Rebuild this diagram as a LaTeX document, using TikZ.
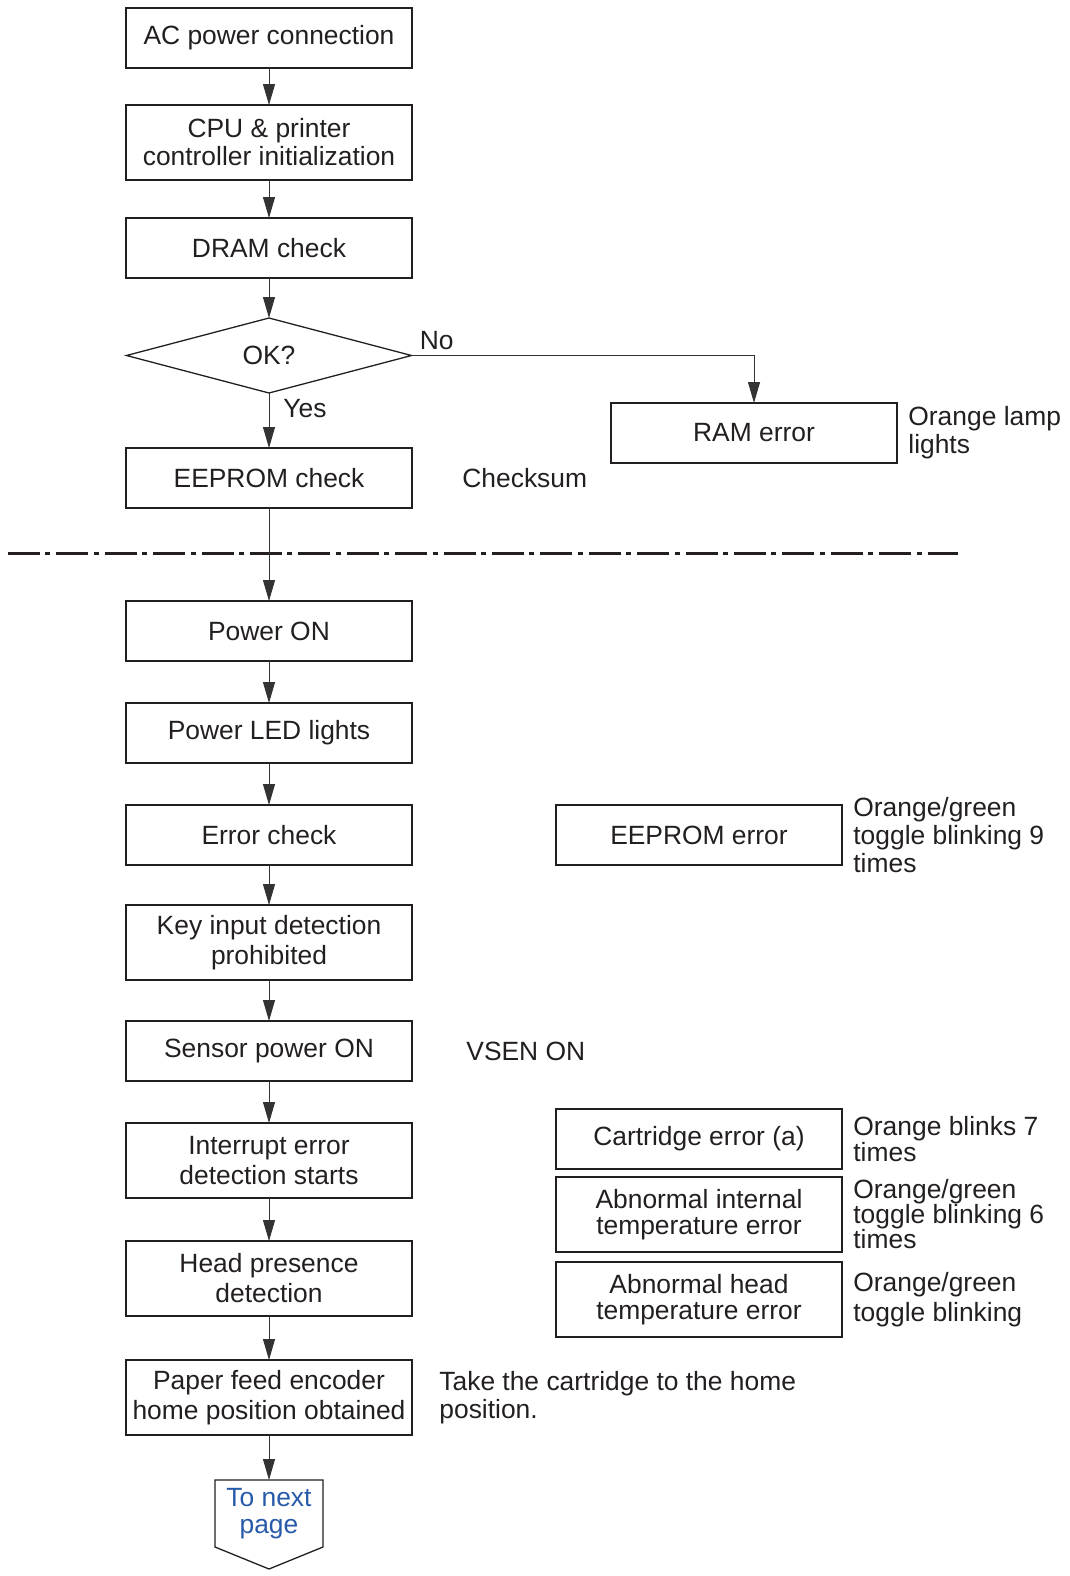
\documentclass[tikz,border=0pt]{standalone}
\usepackage{fontspec}
\setmainfont{Liberation Sans}
\usetikzlibrary{positioning, arrows.meta, shapes.geometric}
\definecolor{inkgray}{RGB}{35,31,32}
\definecolor{linkblue}{RGB}{40,90,170}

\begin{document}
\begin{tikzpicture}[
  x=0.5pt, y=-0.5pt,
  font=\fontsize{13.2}{15}\selectfont,
  text=inkgray,
  box/.style={draw=inkgray, line width=0.65pt, minimum width=143pt, minimum height=30pt, align=center, inner sep=2pt, outer sep=0pt},
  tallbox/.style={box, minimum height=37.5pt},
  errbox/.style={box, font=\fontsize{13.2}{13}\selectfont},
  decision/.style={diamond, draw=inkgray, line width=0.65pt, minimum width=142.5pt, minimum height=37.5pt, inner sep=0pt, outer sep=0pt},
  note/.style={align=left, inner sep=0pt, font=\fontsize{13.2}{14}\selectfont},
  tightnote/.style={note, font=\fontsize{13.2}{12.75}\selectfont},
  flow/.style={draw=black!80, line width=0.5pt, -{Triangle[length=10.5pt, width=6pt]}},
  sepline/.style={draw=inkgray, line width=1.5pt, dash pattern=on 16pt off 2.7pt on 2.5pt off 3pt}
]
\useasboundingbox (0,0) rectangle (1070,1576);

% start-up column
\node[box] (acpower) at (269,38) {AC power connection};
\node[tallbox, font=\fontsize{13.2}{14}\selectfont, below=18.5pt of acpower] (cpu) {CPU \& printer\\controller initialization};
\node[box, below=19pt of cpu] (dram) {DRAM check};
\node[decision, below=20pt of dram] (ok) {OK?};
\node[box, below=27.5pt of ok] (eepromchk) {EEPROM check};

% RAM error branch
\node[box, right=99.5pt of eepromchk, yshift=22.5pt] (ramerr) {RAM error};
\node[note, right=5.5pt of ramerr] (ramnote) {Orange lamp\\lights};
\node[note, right=25pt of eepromchk] (checksum) {Checksum};
\node[note, anchor=south west] (nolbl) at ([xshift=4pt, yshift=2.5pt]ok.east) {No};
\node[note, anchor=west] (yeslbl) at ([xshift=7pt, yshift=-8pt]ok.south) {Yes};

% separator
\draw[sepline] (8,553) -- (958,553);

% power on column
\node[box, below=46.5pt of eepromchk] (poweron) {Power ON};
\node[box, below=21pt of poweron] (powerled) {Power LED lights};
\node[box, below=21pt of powerled] (errchk) {Error check};
\node[tallbox, below=20pt of errchk] (keyin) {Key input detection\\prohibited};
\node[box, below=20.5pt of keyin] (sensor) {Sensor power ON};
\node[tallbox, below=21pt of sensor] (intr) {Interrupt error\\detection starts};
\node[tallbox, below=21.5pt of intr] (head) {Head presence\\detection};
\node[tallbox, below=22pt of head] (paper) {Paper feed encoder\\home position obtained};
\node[minimum width=54pt, minimum height=33.5pt, inner sep=0pt, outer sep=0pt, align=center,
      text=linkblue, font=\fontsize{13.2}{13.5}\selectfont, below=22.5pt of paper] (nextpg) {To next\\page};
\draw[inkgray, line width=0.65pt] (nextpg.north west) -- (nextpg.north east) -- (nextpg.south east)
  -- ([yshift=-11pt]nextpg.south) -- (nextpg.south west) -- cycle;

% error boxes
\node[errbox, right=72pt of errchk] (eepromerr) {EEPROM error};
\node[note, right=5.5pt of eepromerr] (eepnote) {Orange/green\\toggle blinking 9\\times};
\node[note, right=27pt of sensor] (vsen) {VSEN ON};
\node[errbox, right=72pt of intr, yshift=10.75pt] (carterr) {Cartridge error (a)};
\node[tightnote, right=5.5pt of carterr] (cartnote) {Orange blinks 7\\times};
\node[errbox, minimum height=37.5pt, below=4pt of carterr] (tempint) {Abnormal internal\\temperature error};
\node[tightnote, font=\fontsize{13.2}{12.5}\selectfont, right=5.5pt of tempint] (tempintnote) {Orange/green\\toggle blinking 6\\times};
\node[errbox, minimum height=37.5pt, below=5pt of tempint] (temphead) {Abnormal head\\temperature error};
\node[note, font=\fontsize{13.2}{15}\selectfont, right=5.5pt of temphead] (tempheadnote) {Orange/green\\toggle blinking};
\node[note, right=13.5pt of paper] (homenote) {Take the cartridge to the home\\position.};

% arrows
\draw[flow] (acpower) -- (cpu);
\draw[flow] (cpu) -- (dram);
\draw[flow] (dram) -- (ok);
\draw[flow] (ok) -- (eepromchk);
\draw[flow] (ok.east) -| (ramerr.north);
\draw[flow] (eepromchk) -- (poweron);
\draw[flow] (poweron) -- (powerled);
\draw[flow] (powerled) -- (errchk);
\draw[flow] (errchk) -- (keyin);
\draw[flow] (keyin) -- (sensor);
\draw[flow] (sensor) -- (intr);
\draw[flow] (intr) -- (head);
\draw[flow] (head) -- (paper);
\draw[flow] (paper) -- (nextpg.north);

\end{tikzpicture}
\end{document}
